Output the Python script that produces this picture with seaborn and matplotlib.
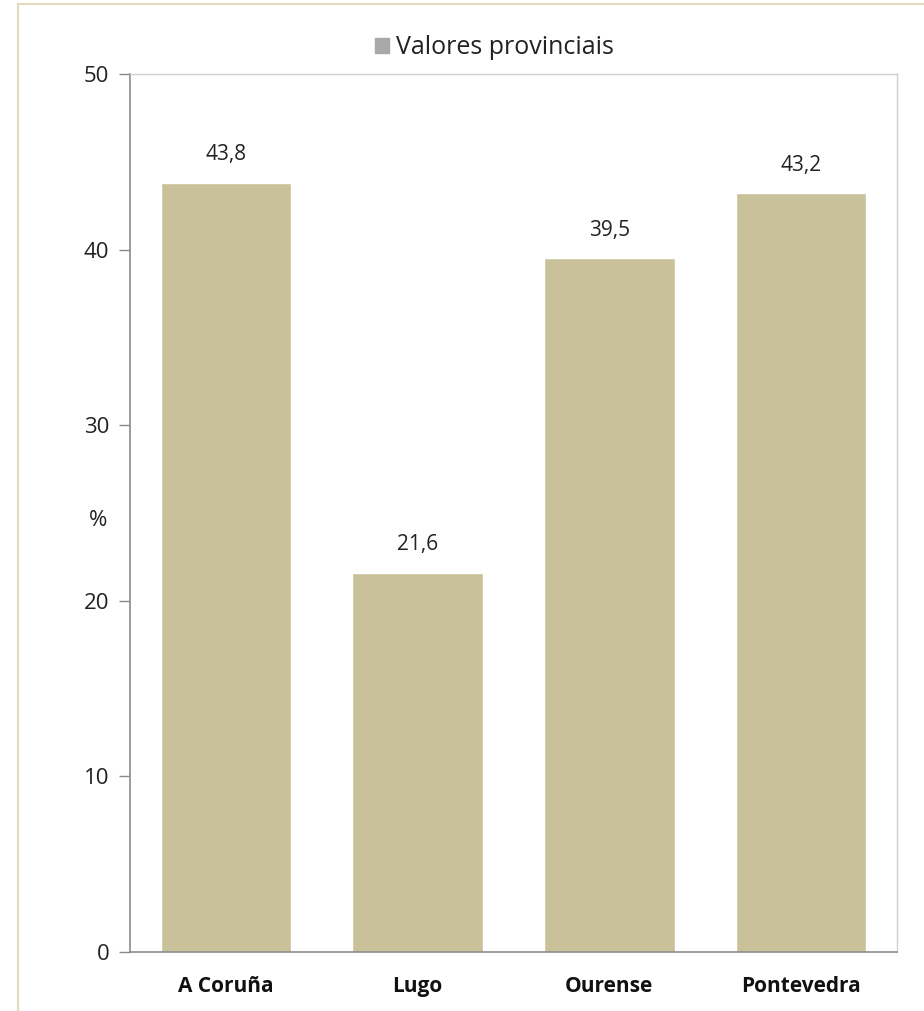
import matplotlib
matplotlib.use('Agg')
import matplotlib.pyplot as plt
import seaborn as sns
import pandas as pd
from matplotlib.patches import Rectangle

# datos
provincias = ['A Coruña', 'Lugo', 'Ourense', 'Pontevedra']
valores = [43.8, 21.6, 39.5, 43.2]
etiquetas = ['43,8', '21,6', '39,5', '43,2']
yticks = [0, 10, 20, 30, 40, 50]

sns.set_style('white')
plt.rcParams['font.family'] = ['Open Sans', 'DejaVu Sans']

df = pd.DataFrame({'Provincia': provincias, 'Valor': valores})

fig = plt.figure(figsize=(9.24, 10.11), dpi=100)
ax = fig.add_axes([130 / 924, 1 - 952 / 1011, (897 - 130) / 924, (952 - 74) / 1011])

# marco exterior beige
fig.patches.append(Rectangle((18 / 924, -0.1), 1.2, 1.1 - 4 / 1011, transform=fig.transFigure,
                             fill=False, edgecolor='#e2dbbd', linewidth=1.5, zorder=0))

sns.barplot(data=df, x='Provincia', y='Valor', color='#c8c19a', width=0.68,
            saturation=1, ax=ax, label='Valores provinciais')

for i, (v, t) in enumerate(zip(valores, etiquetas)):
    ax.text(i, v + 1.0, t, ha='center', va='bottom', fontsize=15, color='#222222')

ax.set_ylim(0, 50)
ax.set_xlim(-0.5, 3.5)
ax.set_yticks(yticks)
ax.set_yticklabels([str(y) for y in yticks], fontsize=16, color='#222222')
ax.set_xticks(range(len(provincias)))
ax.set_xticklabels(provincias, fontsize=15, fontweight='bold', color='#111111')
ax.tick_params(axis='y', which='both', left=True, length=8, width=1, color='#888888', pad=7)
ax.tick_params(axis='x', bottom=False, pad=14)
ax.set_xlabel('')
ax.set_ylabel('%', rotation=0, fontsize=16, color='#222222')
ax.yaxis.set_label_coords(-0.042, 0.48)

for s in ['left', 'bottom']:
    ax.spines[s].set_color('#8c8c8c')
    ax.spines[s].set_linewidth(1.2)
for s in ['top', 'right']:
    ax.spines[s].set_color('#d0d0d0')
    ax.spines[s].set_linewidth(1)

leg = ax.legend(loc='lower center', bbox_to_anchor=(0.475, 0.99), frameon=False, fontsize=18,
                handlelength=0.55, handleheight=0.55, handletextpad=0.3, labelcolor='#222222')
for h in leg.legend_handles:
    h.set_facecolor('#a8a8a8')
    h.set_edgecolor('#a8a8a8')

fig.savefig('out.png', dpi=100)
